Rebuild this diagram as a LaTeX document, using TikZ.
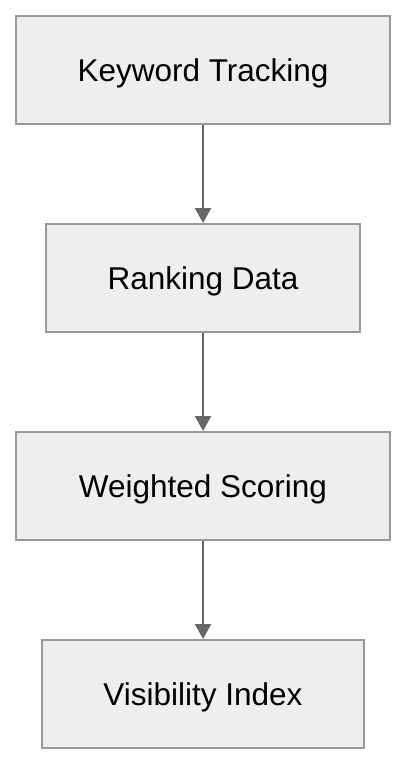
\documentclass[tikz,border=0pt]{standalone}
\usepackage{fontspec}
\setmainfont{Liberation Sans}
\usetikzlibrary{arrows.meta}
\definecolor{boxfill}{HTML}{EEEEEE}
\definecolor{boxline}{HTML}{999999}
\definecolor{arrowcol}{HTML}{666666}
\begin{document}
\begin{tikzpicture}[x=1pt,y=-1pt,
  stepbox/.style={draw=boxline,fill=boxfill,line width=2pt,inner sep=0pt,
    font=\fontsize{31.5}{36}\selectfont,text=black,
    text height=22.5pt,text depth=0pt},
  flow/.style={draw=arrowcol,line width=2pt,-{Triangle[width=16pt,length=15pt]}}]
\useasboundingbox (0,0) rectangle (406,764);
\node[stepbox,minimum width=374pt,minimum height=108pt] (kt) at (203,70) {Keyword Tracking};
\node[stepbox,minimum width=314pt,minimum height=108pt] (rd) at (203,278) {Ranking Data};
\node[stepbox,minimum width=374pt,minimum height=108pt] (ws) at (203,486) {Weighted Scoring};
\node[stepbox,minimum width=322pt,minimum height=108pt] (vi) at (203,694) {Visibility Index};
\draw[flow] (kt.south) -- (rd.north);
\draw[flow] (rd.south) -- (ws.north);
\draw[flow] (ws.south) -- (vi.north);
\end{tikzpicture}
\end{document}
